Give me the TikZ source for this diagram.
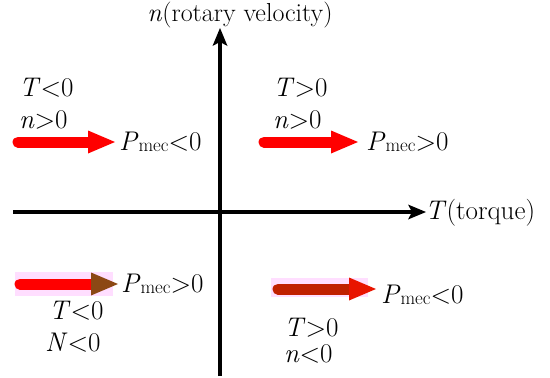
\documentclass[tikz,border=0pt]{standalone}
\usepackage{fontspec}
\usetikzlibrary{arrows.meta}
\definecolor{pinkbg}{RGB}{255,222,255}
\definecolor{headbrown}{RGB}{140,72,20}
\definecolor{darkshaft}{RGB}{192,32,0}
\definecolor{brightred}{RGB}{232,20,0}
\newcommand{\pmec}[1]{\textit{P}\raisebox{-1.5pt}{\fontsize{19}{20}\selectfont mec}#1}
\begin{document}
\begin{tikzpicture}[x=1pt,y=-1pt,
  lbl/.style={font=\fontsize{27}{30}\selectfont, inner sep=0pt, anchor=base west},
  axis/.style={line width=4pt, -{Stealth[length=18pt,width=15pt,inset=4pt,line width=0pt]}},
  fatarrow/.style={line width=11pt, line cap=round, -{Triangle[length=27pt,width=23pt,line width=0pt,#1]}},
  fatarrow/.default={}
]
\useasboundingbox (0,0) rectangle (550,378);
% axes
\coordinate (xs) at (13,212);
\coordinate (xe) at (426,212);
\coordinate (ys) at (220,376);
\coordinate (ye) at (220,28);
\draw[axis] (xs) -- (xe);
\draw[axis] (ys) -- (ye);
\node[lbl, anchor=west] (tlab) at (425,213) {\textit{T}(torque)};
\node[lbl, anchor=base, font=\fontsize{26}{30}\selectfont] (nlab) at (240,21) {\textit{n}(rotary velocity)};
% quadrant I
\node[lbl] (t2) at (273,96) {\textit{T}>0};
\node[lbl] (n2) at (273,128) {\textit{n}>0};
\node[lbl] (p2) at (366,150) {\pmec{>0}};
\coordinate (a2s) at (264,142);
\coordinate (a2e) at (358,142);
\draw[fatarrow, red] (a2s) -- (a2e);
% quadrant II
\node[lbl] (t1) at (19,96) {\textit{T}<0};
\node[lbl] (n1) at (19,128) {\textit{n}>0};
\node[lbl] (p1) at (119,150) {\pmec{<0}};
\coordinate (a1s) at (18,142);
\coordinate (a1e) at (115,142);
\draw[fatarrow, red] (a1s) -- (a1e);
% quadrant III
\fill[pinkbg] (15,272) rectangle (113,296);
\coordinate (a3s) at (20,284);
\coordinate (a3e) at (118,284);
\draw[fatarrow={color=headbrown}, red] (a3s) -- (a3e);
\node[lbl] (p3) at (121,292) {\pmec{>0}};
\node[lbl] (t3) at (49,319) {\textit{T}<0};
\node[lbl] (nn3) at (45,351) {\textit{N}<0};
% quadrant IV
\fill[pinkbg] (271,278) rectangle (368,297);
\coordinate (a4s) at (278,289);
\coordinate (a4e) at (376,289);
\draw[fatarrow={color=brightred}, darkshaft] (a4s) -- (a4e);
\node[lbl] (p4) at (381,303) {\pmec{<0}};
\node[lbl] (t4) at (284,336) {\textit{T}>0};
\node[lbl] (n4) at (284,362) {\textit{n}<0};
\end{tikzpicture}
\end{document}
